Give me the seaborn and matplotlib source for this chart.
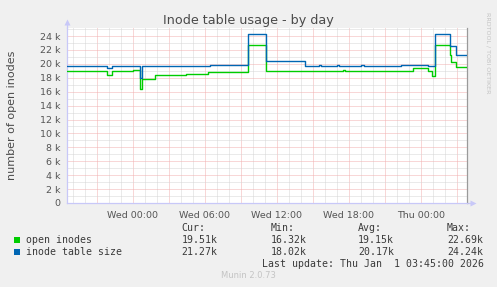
import matplotlib
matplotlib.use("Agg")
import matplotlib.pyplot as plt
import matplotlib.dates as mdates
from matplotlib.patches import Rectangle
from matplotlib.ticker import FixedLocator, FuncFormatter
import pandas as pd
import seaborn as sns

# ---------------- data ----------------
open_times = ["2025-12-30 18:30", "2025-12-30 21:50", "2025-12-30 22:15",
              "2025-12-31 00:00", "2025-12-31 00:35", "2025-12-31 00:45",
              "2025-12-31 01:50", "2025-12-31 04:25", "2025-12-31 06:15",
              "2025-12-31 09:35", "2025-12-31 11:05", "2025-12-31 13:05",
              "2025-12-31 17:30", "2025-12-31 17:40", "2025-12-31 23:20",
              "2026-01-01 00:35", "2026-01-01 00:55", "2026-01-01 01:10",
              "2026-01-01 02:25", "2026-01-01 02:30", "2026-01-01 02:55",
              "2026-01-01 03:50"]
open_values = [18900, 18450, 18900,
               19100, 16320, 17800,
               18400, 18600, 18800,
               22650, 18900, 19000,
               19100, 19000, 19400,
               18900, 18300, 22690,
               21300, 20200, 19510,
               19510]

size_times = ["2025-12-30 18:30", "2025-12-30 21:50", "2025-12-30 22:15",
              "2025-12-31 00:35", "2025-12-31 00:45", "2025-12-31 06:25",
              "2025-12-31 09:35", "2025-12-31 11:05", "2025-12-31 14:20",
              "2025-12-31 15:30", "2025-12-31 15:40", "2025-12-31 17:00",
              "2025-12-31 17:10", "2025-12-31 19:00", "2025-12-31 19:15",
              "2025-12-31 22:20", "2026-01-01 00:35", "2026-01-01 01:10",
              "2026-01-01 02:25", "2026-01-01 02:55", "2026-01-01 03:50"]
size_values = [19700, 19400, 19700,
               18020, 19700, 19900,
               24240, 20350, 19750,
               19850, 19750, 19850,
               19750, 19850, 19750,
               19900, 19700, 24240,
               22500, 21270, 21270]

series_names = ["open inodes", "inode table size"]
series_colors = ["#00CC00", "#0066B3"]

ytick_values = list(range(0, 24001, 2000))
legend_cur = ["19.51k", "21.27k"]
legend_min = ["16.32k", "18.02k"]
legend_avg = ["19.15k", "20.17k"]
legend_max = ["22.69k", "24.24k"]

title = "Inode table usage - by day"
ylabel = "number of open inodes"
last_update = "Last update: Thu Jan  1 03:45:00 2026"

# ---------------- build frame ----------------
df = pd.concat([
    pd.DataFrame({"time": pd.to_datetime(open_times), "value": open_values,
                  "series": series_names[0]}),
    pd.DataFrame({"time": pd.to_datetime(size_times), "value": size_values,
                  "series": series_names[1]}),
], ignore_index=True)

sns.set_theme(style="white")
plt.rcParams["font.family"] = ["DejaVu Sans"]

W, H = 497, 287
fig = plt.figure(figsize=(W / 100, H / 100), dpi=100)
fig.patch.set_facecolor("#F0F0F0")


def fx(x):
    return x / W


def fy(y):
    return 1 - y / H


ax = fig.add_axes([fx(66.7), fy(203), 400 / W, 175 / H])
ax.set_facecolor("white")

sns.lineplot(data=df, x="time", y="value", hue="series",
             palette=dict(zip(series_names, series_colors)),
             drawstyle="steps-post", linewidth=1.0, estimator=None,
             legend=False, ax=ax, zorder=3)

x0 = pd.Timestamp("2025-12-30 18:30")
x1 = pd.Timestamp("2026-01-01 03:50")
ax.set_xlim(x0, x1)
ax.set_ylim(0, 25150)

# grid
ax.xaxis.set_major_locator(mdates.HourLocator(byhour=range(0, 24, 3)))
ax.xaxis.set_minor_locator(mdates.HourLocator())


def xfmt(v, pos):
    d = mdates.num2date(v)
    return d.strftime("%a %H:%M") if d.hour % 6 == 0 else ""


ax.xaxis.set_major_formatter(FuncFormatter(xfmt))
ax.yaxis.set_major_locator(FixedLocator(ytick_values))
ax.yaxis.set_minor_locator(FixedLocator(list(range(1000, 25001, 2000))))
ax.yaxis.set_major_formatter(FuncFormatter(
    lambda v, p: "0" if v == 0 else f"{int(v // 1000)} k"))

ax.set_axisbelow(True)
ax.grid(which="major", color="#F2B0B0", linestyle=(0, (1, 1)), linewidth=0.72)
ax.grid(which="minor", color="#D6D6D6", linestyle=(0, (1, 1)), linewidth=0.72)

ax.tick_params(axis="x", which="major", length=2.2, width=0.72,
               color="#F2A0A0", direction="out", pad=3.5,
               labelsize=6.8, labelcolor="#555555")
ax.tick_params(axis="x", which="minor", length=1.4, width=0.72,
               color="#D0D0D0", direction="out")
ax.tick_params(axis="y", which="both", length=0, pad=4.8,
               labelsize=6.8, labelcolor="#555555")
ax.set_xlabel("")
ax.set_ylabel("")

for s in ["top"]:
    ax.spines[s].set_visible(False)
ax.spines["left"].set_color("#C8C8F8")
ax.spines["bottom"].set_color("#C8C8F8")
ax.spines["right"].set_color("#9A9A9A")
for s in ["left", "bottom", "right"]:
    ax.spines[s].set_linewidth(0.9)

# axis extensions + arrows
ax.plot([0, 0], [1, 1.03], transform=ax.transAxes, color="#C8C8F8",
        lw=0.9, clip_on=False)
ax.plot([0], [1.035], transform=ax.transAxes, marker="^", ms=5,
        color="#C8C8F8", clip_on=False, mec="none")
ax.plot([1, 1.013], [0, 0], transform=ax.transAxes, color="#C8C8F8",
        lw=0.9, clip_on=False)
ax.plot([1.017], [0], transform=ax.transAxes, marker=">", ms=5,
        color="#C8C8F8", clip_on=False, mec="none")

# texts
fig.text(fx(248), fy(24), title, ha="center", va="baseline",
         fontsize=9.2, color="#4A4A4A")
fig.text(fx(12), fy(115), ylabel, ha="center", va="center", rotation=90,
         fontsize=8, color="#4A4A4A")
fig.text(fx(487.5), fy(53), "RRDTOOL / TOBI OETIKER", ha="center",
         va="center", rotation=270, fontsize=4.6, color="#C4C4C4")
fig.text(fx(248), fy(276), "Munin 2.0.73", ha="center", va="center",
         fontsize=6, color="#C4C4C4")

mono = {"family": "DejaVu Sans Mono", "size": 7.1, "color": "#3A3A3A"}
cols_x = [181.7, 270.5, 358.2, 447]
for cx, h in zip(cols_x, ["Cur:", "Min:", "Avg:", "Max:"]):
    fig.text(fx(cx), fy(228), h, ha="left", va="center", **mono)
rows_y = [240, 252]
for i, ry in enumerate(rows_y):
    fig.patches.append(Rectangle((fx(14), fy(ry + 3)), 6 / W, 6 / H,
                                 transform=fig.transFigure,
                                 facecolor=series_colors[i], edgecolor="none"))
    fig.text(fx(26.3), fy(ry), series_names[i], ha="left", va="center", **mono)
    for cx, vals in zip(cols_x, [legend_cur, legend_min, legend_avg, legend_max]):
        fig.text(fx(cx), fy(ry), vals[i], ha="left", va="center", **mono)
fig.text(fx(261.7), fy(264), last_update, ha="left", va="center", **mono)

fig.savefig("out.png", dpi=100, facecolor=fig.get_facecolor())
